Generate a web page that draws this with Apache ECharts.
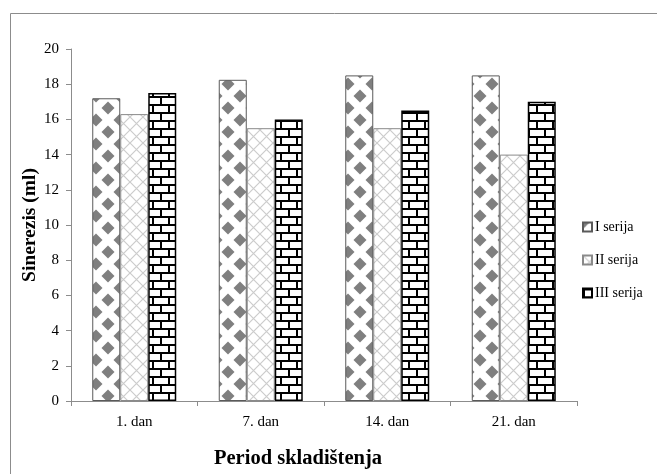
<!DOCTYPE html>
<html>
<head>
<meta charset="utf-8">
<script src="https://cdn.jsdelivr.net/npm/echarts@6/dist/echarts.min.js"></script>
<style>
  html, body { margin: 0; padding: 0; background: #fff; }
  #chart { width: 657px; height: 474px; }
</style>
</head>
<body>
<div id="chart"></div>
<script>
// Storage periods and syneresis (ml) for the three batches
const categories = ['1. dan', '7. dan', '14. dan', '21. dan'];
const seriesNames = ['I serija', 'II serija', 'III serija'];
const serijaI = [17.2, 18.25, 18.5, 18.5];
const serijaII = [16.3, 15.5, 15.5, 14.0];
const serijaIII = [17.5, 16.0, 16.5, 17.0];
const yTicks = { min: 0, max: 20, step: 2 };

const FONT = "'Liberation Serif', 'Times New Roman', serif";

function makeTile(w, h, draw) {
  const c = document.createElement('canvas');
  c.width = w; c.height = h;
  const ctx = c.getContext('2d');
  ctx.fillStyle = '#ffffff';
  ctx.fillRect(0, 0, w, h);
  draw(ctx);
  return c;
}

// Gray diamonds in a checker arrangement
const diamondTile = makeTile(24, 24, ctx => {
  ctx.fillStyle = '#7f7f7f';
  const r = 6.5;
  const centres = [[12, 12], [0, 0], [24, 0], [0, 24], [24, 24]];
  centres.forEach(([cx, cy]) => {
    ctx.beginPath();
    ctx.moveTo(cx, cy - r);
    ctx.lineTo(cx + r, cy);
    ctx.lineTo(cx, cy + r);
    ctx.lineTo(cx - r, cy);
    ctx.closePath();
    ctx.fill();
  });
});

// Light diagonal cross-hatch
const hatchTile = makeTile(13, 13, ctx => {
  ctx.strokeStyle = '#cccccc';
  ctx.lineWidth = 1.2;
  [-13, 0, 13].forEach(k => {
    ctx.beginPath();
    ctx.moveTo(k, 0); ctx.lineTo(k + 13, 13);
    ctx.moveTo(k + 13, 0); ctx.lineTo(k, 13);
    ctx.stroke();
  });
});

// Black brick wall
const brickTile = makeTile(16, 16, ctx => {
  ctx.fillStyle = '#000000';
  ctx.fillRect(0, 0, 16, 2);
  ctx.fillRect(0, 8, 16, 2);
  ctx.fillRect(0, 2, 2, 6);
  ctx.fillRect(8, 10, 2, 6);
});

const fills = [
  { image: diamondTile, repeat: 'repeat' },
  { image: hatchTile, repeat: 'repeat' },
  { image: brickTile, repeat: 'repeat' }
];
const borders = [
  { color: '#5a5a5a', width: 1 },
  { color: '#8a8a8a', width: 1 },
  { color: '#000000', width: 1.5 }
];
const values = [serijaI, serijaII, serijaIII];

const chart = echarts.init(document.getElementById('chart'), null, { renderer: 'canvas' });

chart.setOption({
  animation: false,
  backgroundColor: '#ffffff',
  textStyle: { fontFamily: FONT, color: '#000' },
  graphic: [{
    type: 'rect',
    shape: { x: 10.5, y: 13.5, width: 700, height: 500 },
    style: { fill: 'none', stroke: '#8c8c8c', lineWidth: 1 },
    silent: true,
    z: -1
  }],
  grid: { left: 71, right: 80, top: 49, bottom: 70 },
  legend: {
    orient: 'vertical',
    left: 577,
    top: 215,
    itemWidth: 9,
    itemHeight: 9,
    itemGap: 19,
    icon: 'rect',
    data: seriesNames,
    textStyle: { fontFamily: FONT, fontSize: 14, color: '#000', padding: [0, 0, 0, -2] }
  },
  xAxis: {
    type: 'category',
    data: categories,
    name: 'Period skladištenja',
    nameLocation: 'middle',
    nameGap: 47,
    nameMoveOverlap: false,
    nameTextStyle: { fontFamily: FONT, fontSize: 20.5, fontWeight: 'bold', color: '#000', padding: [0, 52, 0, 0] },
    axisLine: { lineStyle: { color: '#8c8c8c', width: 1 } },
    axisTick: { show: true, length: 5, lineStyle: { color: '#8c8c8c' } },
    axisLabel: { fontFamily: FONT, fontSize: 15, color: '#000', margin: 14 }
  },
  yAxis: {
    type: 'value',
    min: yTicks.min,
    max: yTicks.max,
    interval: yTicks.step,
    name: 'Sinerezis (ml)',
    nameLocation: 'middle',
    nameGap: 31,
    nameMoveOverlap: false,
    nameTextStyle: { fontFamily: FONT, fontSize: 19.5, fontWeight: 'bold', color: '#000' },
    splitLine: { show: false },
    axisLine: { show: true, lineStyle: { color: '#8c8c8c', width: 1 } },
    axisTick: { show: true, length: 5, lineStyle: { color: '#8c8c8c' } },
    axisLabel: { fontFamily: FONT, fontSize: 15, color: '#000', margin: 12 }
  },
  series: seriesNames.map((name, i) => ({
    name,
    type: 'bar',
    data: values[i],
    barWidth: 28,
    barGap: '0%',
    itemStyle: {
      color: fills[i],
      borderColor: borders[i].color,
      borderWidth: borders[i].width
    }
  }))
});
</script>
</body>
</html>
